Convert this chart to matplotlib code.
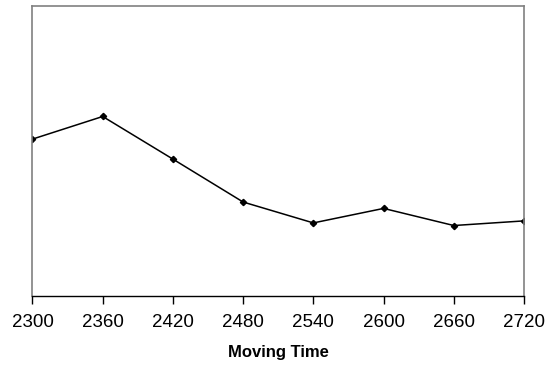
import numpy as np
import matplotlib
matplotlib.use("Agg")
import matplotlib.pyplot as plt

plt.rcParams['font.family'] = ['Liberation Sans', 'DejaVu Sans']

moving_time = [2300, 2360, 2420, 2480, 2540, 2600, 2660, 2720]
values = [54.1, 61.9, 47.2, 32.4, 25.2, 30.2, 24.3, 25.9]
tick_labels = [str(t) for t in moving_time]

fig = plt.figure(figsize=(5.57, 3.70), dpi=100)
ax = fig.add_axes([0.0583, 0.2, 0.8825, 0.7838])

ax.plot(moving_time, values, color='black', linewidth=1.1,
        marker='D', markersize=3.2, markerfacecolor='black')

ax.set_xlim(2300, 2720)
ax.set_ylim(0, 100)
ax.set_xticks(moving_time)
ax.set_xticklabels(tick_labels, fontsize=13.5)
ax.set_yticks([])
ax.tick_params(axis='x', direction='out', length=6, width=1, color='black', pad=7)

for side in ['left', 'top', 'right']:
    ax.spines[side].set_color('#808080')
    ax.spines[side].set_linewidth(1.2)
ax.spines['bottom'].set_color('black')
ax.spines['bottom'].set_linewidth(1)

ax.set_xlabel("Moving Time", fontsize=12, fontweight='bold', labelpad=10)

fig.savefig("out.png", dpi=100)
